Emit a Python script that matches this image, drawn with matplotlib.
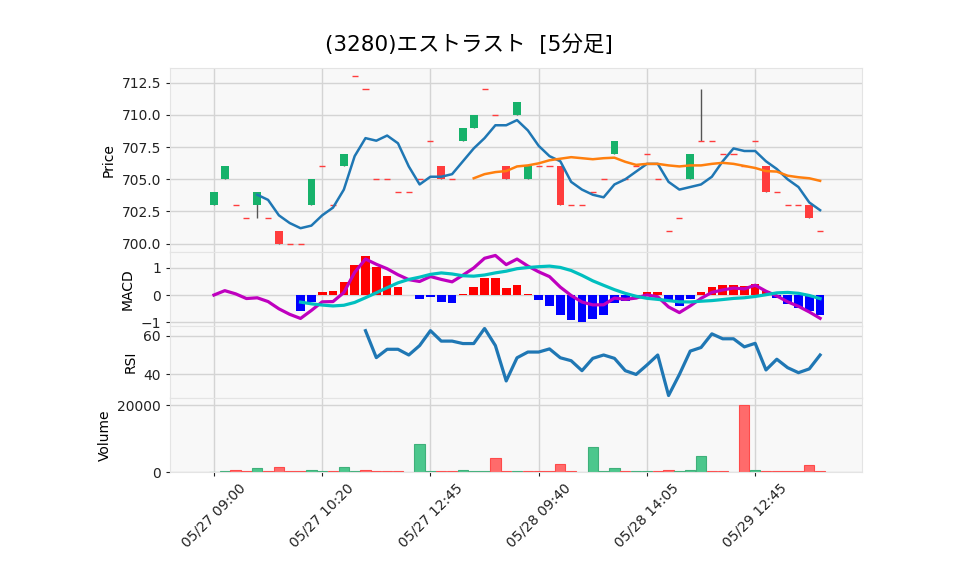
import numpy as np
import matplotlib
matplotlib.use("Agg")
import matplotlib.pyplot as plt

plt.rcParams['font.family'] = ['DejaVu Sans', 'Noto Sans CJK JP']

# ---- data (57 five-minute bars) ----
opens = [703, 705, 703, 702, 703, 702, 701, 700, 700, 703, 706, 703, 706, 713, 712, 705, 705, 704, 704, 705,
         708, 706, 705, 708, 709, 712, 710, 706, 710, 705, 706, 706, 706, 703, 703, 704, 705, 707, 705, 706,
         707, 705, 701, 702, 705, 708, 708, 707, 707, 706, 708, 706, 704, 703, 703, 703, 701]
closes = [704, 706, 703, 702, 704, 702, 700, 700, 700, 705, 706, 703, 707, 713, 712, 705, 705, 704, 704, 705,
          708, 705, 705, 709, 710, 712, 710, 705, 711, 706, 706, 706, 703, 703, 703, 704, 705, 708, 705, 706,
          707, 705, 701, 702, 707, 708, 708, 707, 707, 706, 708, 704, 704, 703, 703, 702, 701]
highs = [704, 706, 703, 702, 704, 702, 701, 700, 700, 705, 706, 703, 707, 713, 712, 705, 705, 704, 704, 705,
         708, 706, 705, 709, 710, 712, 710, 706, 711, 706, 706, 706, 706, 703, 703, 704, 705, 708, 705, 706,
         707, 705, 701, 702, 707, 712, 708, 707, 707, 706, 708, 706, 704, 703, 703, 703, 701]
lows = [703, 705, 703, 702, 702, 702, 700, 700, 700, 703, 706, 703, 706, 713, 712, 705, 705, 704, 704, 705,
        708, 705, 705, 708, 709, 712, 710, 705, 710, 705, 706, 706, 703, 703, 703, 704, 705, 707, 705, 706,
        707, 705, 701, 702, 705, 708, 708, 707, 707, 706, 708, 704, 704, 703, 703, 702, 701]
volumes = [100, 300, 600, 200, 1200, 200, 1500, 200, 200, 600, 200, 200, 1500, 200, 600, 200, 200, 200, 0, 8400,
           200, 200, 200, 600, 200, 200, 4200, 200, 200, 200, 200, 200, 2400, 200, 0, 7400, 200, 1100, 200, 200,
           200, 200, 500, 200, 500, 4700, 200, 200, 0, 20100, 500, 200, 200, 200, 200, 2100, 200]

ma5 = [np.nan] * 4 + [703.8, 703.4, 702.2, 701.6, 701.2, 701.4, 702.2, 702.8, 704.2, 706.8, 708.2, 708.0, 708.4,
                      707.8, 706.0, 704.6, 705.2, 705.2, 705.4, 706.4, 707.4, 708.2, 709.2, 709.2, 709.6, 708.8,
                      707.6, 706.8, 706.4, 704.8, 704.2, 703.8, 703.6, 704.6, 705.0, 705.6, 706.2, 706.2, 704.8,
                      704.2, 704.4, 704.6, 705.2, 706.4, 707.4, 707.2, 707.2, 706.4, 705.8, 705.0, 704.4, 703.2,
                      702.6]
ma25 = [np.nan] * 24 + [705.08, 705.40, 705.56, 705.64, 706.00, 706.08, 706.24, 706.48, 706.60, 706.72, 706.64,
                        706.56, 706.64, 706.68, 706.36, 706.12, 706.20, 706.20, 706.08, 706.00, 706.08, 706.08,
                        706.20, 706.28, 706.20, 706.04, 705.88, 705.64, 705.60, 705.28, 705.16, 705.08, 704.88]

macd = [0.0, 0.1595, 0.0434, -0.1279, -0.1010, -0.2384, -0.5029, -0.7043, -0.8541, -0.5629, -0.2486, -0.2388,
        0.0907, 0.8265, 1.3137, 1.1221, 0.9592, 0.7408, 0.5613, 0.4940, 0.6750, 0.5698, 0.4809, 0.7248, 0.9874,
        1.3415, 1.4441, 1.1091, 1.3127, 1.0583, 0.8470, 0.6718, 0.2875, -0.0168, -0.2551, -0.3590, -0.3566,
        -0.1114, -0.1573, -0.1117, 0.0051, -0.0630, -0.4347, -0.6413, -0.3969, -0.1211, 0.0963, 0.1858, 0.2538,
        0.2244, 0.3583, 0.1401, -0.0325, -0.2471, -0.4124, -0.6170, -0.8500]
signal = [np.nan] * 8 + [-0.2584, -0.3210, -0.3663, -0.3977, -0.3734, -0.2703, -0.0979, 0.0827, 0.2675, 0.4447,
                         0.5697, 0.6522, 0.7537, 0.8069, 0.7685, 0.7031, 0.6881, 0.7306, 0.8088, 0.8696, 0.9606,
                         1.0032, 1.0340, 1.0552, 1.0066, 0.8950, 0.7176, 0.5173, 0.3544, 0.1962, 0.0611, -0.0454,
                         -0.1195, -0.1584, -0.2049, -0.2478, -0.2520, -0.2258, -0.2027, -0.1646, -0.1240, -0.0996,
                         -0.0528, 0.0110, 0.0787, 0.0953, 0.0630, -0.0163, -0.1314]
hist = [np.nan] * 8 + [-0.5957, -0.2419, 0.1177, 0.1589, 0.4641, 1.0968, 1.4116, 1.0394, 0.6917, 0.2961, -0.0084,
                       -0.1582, -0.0787, -0.2371, -0.2876, 0.0217, 0.2993, 0.6109, 0.6353, 0.2395, 0.3521, 0.0551,
                       -0.1870, -0.3834, -0.7191, -0.9118, -0.9727, -0.8763, -0.7110, -0.3076, -0.2184, -0.0663,
                       0.1246, 0.0954, -0.2298, -0.3935, -0.1449, 0.1047, 0.2990, 0.3504, 0.3778, 0.3240, 0.4111,
                       0.1291, -0.1112, -0.3424, -0.4754, -0.6007, -0.7186]
rsi = [np.nan] * 14 + [62.50, 48.65, 52.94, 52.94, 50.00, 54.84, 62.50, 57.14, 57.14, 55.88, 55.88, 63.64, 54.84,
                       36.67, 48.57, 51.52, 51.52, 53.13, 48.57, 47.06, 41.94, 48.28, 50.00, 48.28, 41.94, 40.00,
                       44.83, 50.00, 29.17, 40.00, 52.00, 53.85, 60.87, 58.33, 58.33, 54.17, 56.00, 42.31, 47.83,
                       43.48, 40.91, 42.86, 50.00]

tick_pos = [0, 10, 20, 30, 40, 50]
tick_labels = ['05/27 09:00', '05/27 10:20', '05/27 12:45', '05/28 09:40', '05/28 14:05', '05/29 12:45']

title = '(3280)エストラスト  [5分足]'

# ---- figure ----
x = np.arange(len(closes))
up_c, dn_c = '#17b26b', '#ff3d3d'
vup_c, vdn_c = '#4cc78d', '#ff6b6b'

fig = plt.figure(figsize=(9.58, 5.75), dpi=100)
L, W = 170 / 958, 692 / 958
def rect(top, bot):
    return [L, 1 - bot / 575, W, (bot - top) / 575]

ax1 = fig.add_axes(rect(68, 252))
ax2 = fig.add_axes(rect(252, 326), sharex=ax1)
ax3 = fig.add_axes(rect(326, 398), sharex=ax1)
ax4 = fig.add_axes(rect(398, 472), sharex=ax1)

for ax in (ax1, ax2, ax3, ax4):
    ax.set_facecolor('#f8f8f8')
    ax.grid(True, color='#d4d4d4', linewidth=1)
    ax.set_axisbelow(True)
    for s in ax.spines.values():
        s.set_color('#e4e4e4')
    ax.tick_params(labelsize=10, colors='#222222', length=3)

# candles
for i in x:
    o, c = opens[i], closes[i]
    if highs[i] != lows[i]:
        ax1.vlines(i, lows[i], highs[i], color='#555555', linewidth=1, zorder=2)
    if c != o:
        ax1.bar(i, abs(c - o), bottom=min(o, c), width=0.7,
                color=up_c if c > o else dn_c, zorder=3)
    else:
        ax1.hlines(o, i - 0.28, i + 0.28, color=dn_c, linewidth=1, zorder=3)
ax1.plot(x, ma5, color='#1f77b4', linewidth=1.8, zorder=4)
ax1.plot(x, ma25, color='#ff7f0e', linewidth=1.8, zorder=4)
ax1.set_ylim(699.35, 713.65)
ax1.set_ylabel('Price', fontsize=10)

# MACD
hcol = ['r' if h > 0 else 'b' for h in np.nan_to_num(hist)]
ax2.bar(x, hist, width=0.8, color=hcol, zorder=2)
ax2.plot(x, macd, color='m', linewidth=2.3, zorder=3)
ax2.plot(x, signal, color='c', linewidth=2.3, zorder=3)
ax2.set_ylim(-1.13, 1.57)
ax2.set_yticks([-1, 0, 1])
ax2.set_ylabel('MACD', fontsize=10)

# RSI
ax3.plot(x, rsi, color='#1f77b4', linewidth=2.3)
ax3.set_ylim(27.9, 64.9)
ax3.set_yticks([40, 60])
ax3.set_ylabel('RSI', fontsize=10)

# Volume
vcol = [vup_c if i > 0 and closes[i] > closes[i - 1] else vdn_c for i in x]
vcol[0] = vup_c
vedge = ['#3fb07a' if v == vup_c else '#ff4a4a' for v in vcol]
vol = np.array(volumes, dtype=float)
mask = vol > 0
ax4.bar(x[mask], vol[mask], width=0.95, color=np.array(vcol)[mask],
        edgecolor=np.array(vedge)[mask], linewidth=0.8)
ax4.set_ylim(0, 22110)
ax4.set_yticks([0, 20000])
ax4.set_ylabel('Volume', fontsize=10)

ax1.set_xlim(-4.06, 59.87)
ax4.set_xticks(tick_pos)
ax4.set_xticklabels(tick_labels, rotation=45, ha='center')
for ax in (ax1, ax2, ax3):
    plt.setp(ax.get_xticklabels(), visible=False)
    ax.tick_params(axis='x', length=0)

fig.text(0.489, 0.922, title, ha='center', va='center', fontsize=15.5)

fig.savefig('out.png', dpi=100)
